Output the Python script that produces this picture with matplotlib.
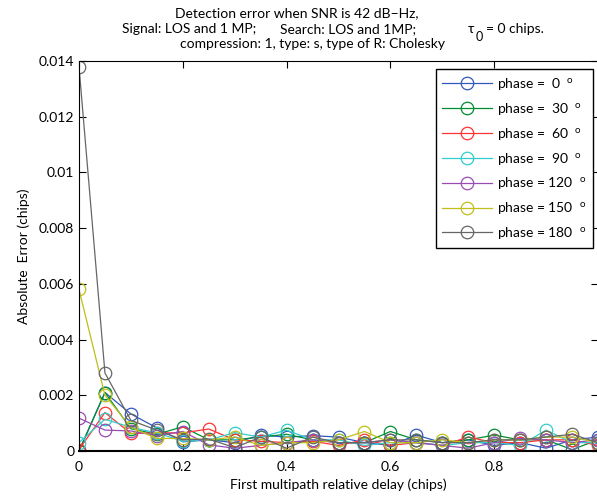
import numpy as np
import matplotlib
matplotlib.use('Agg')
import matplotlib.pyplot as plt
from matplotlib.ticker import FuncFormatter

plt.rcParams['font.family'] = ['Lato', 'DejaVu Sans']
plt.rcParams['font.size'] = 10
plt.rcParams['mathtext.fontset'] = 'custom'
plt.rcParams['mathtext.rm'] = 'Lato'
plt.rcParams['mathtext.it'] = 'Lato'

# retardo relativo del primer multitrayecto (chips)
delay = np.arange(0, 1.0001, 0.05)

# error absoluto para cada fase del multitrayecto
err_0 = [0, 0.0021, 0.00133, 0.00083, 0.00033, 0.0004, 0.0003, 0.00057, 0.0005, 0.00055, 0.0005,
         0.0003, 0.0002, 0.00057, 0.0003, 0.0004, 0.0002, 0.0003, 0.0001, 0.0004, 0.0005]
err_30 = [0, 0.0021, 0.0008, 0.0006, 0.00087, 0.0004, 0.0004, 0.0005, 0.0006, 0.0004, 0.0003,
          0.0003, 0.0007, 0.0004, 0.0003, 0.0004, 0.00057, 0.0004, 0.0004, 0.00005, 0.0004]
err_60 = [0.00005, 0.00138, 0.00063, 0.00065, 0.00065, 0.00079, 0.0004, 0.00035, 0.0003, 0.00035, 0.0002,
          0.0004, 0.0002, 0.0003, 0.0002, 0.0005, 0.0003, 0.0003, 0.0004, 0.0004, 0.0002]
err_90 = [0.0003, 0.00114, 0.00085, 0.00065, 0.00035, 0.0004, 0.00066, 0.0005, 0.00075, 0.0004, 0.0004,
          0.0002, 0.0003, 0.0003, 0.0002, 0.0003, 0.0003, 0.0002, 0.00075, 0.0003, 0.0003]
err_120 = [0.00118, 0.00075, 0.00072, 0.00055, 0.0007, 0.00022, 0.0001, 0.0002, 0.0003, 0.0004, 0.0003,
           0.0003, 0.0004, 0.0003, 0.0002, 0.0001, 0.0003, 0.00045, 0.0004, 0.0003, 0.0004]
err_150 = [0.0058, 0.0020, 0.00085, 0.00045, 0.00045, 0.0004, 0.0005, 0.0002, 0.0003, 0.0003, 0.0004,
           0.0007, 0.0003, 0.0003, 0.0004, 0.0003, 0.0004, 0.0004, 0.0005, 0.0005, 0.0003]
err_180 = [0.0138, 0.0028, 0.0011, 0.00075, 0.0004, 0.00043, 0.00012, 0.0005, 0.0001, 0.0005, 0.0003,
           0.0003, 0.0004, 0.0004, 0.0003, 0.0003, 0.0004, 0.0004, 0.0005, 0.0006, 0.0003]

series = [err_0, err_30, err_60, err_90, err_120, err_150, err_180]
labels = ['phase =  0  $^{o}$', 'phase =  30  $^{o}$', 'phase =  60  $^{o}$', 'phase =  90  $^{o}$',
          'phase = 120  $^{o}$', 'phase = 150  $^{o}$', 'phase = 180  $^{o}$']
colores = [(0.2, 0.35, 0.75), (0.0, 0.55, 0.2), (1.0, 0.2, 0.2), (0.2, 0.8, 0.8),
           (0.6, 0.3, 0.7), (0.75, 0.75, 0.1), (0.4, 0.4, 0.4)]

W, H = 597, 498
fig = plt.figure(figsize=(W / 100, H / 100), dpi=100)
ax = fig.add_axes([79 / W, 1 - 451 / H, (598 - 79) / W, (451 - 61) / H])

for y, lab, c in zip(series, labels, colores):
    ax.plot(delay, y, '-o', color=c, lw=0.9, ms=9, mfc='none', mec=c, mew=0.9, label=lab)

ax.set_xlim(0, 1)
ax.set_ylim(0, 0.014)
ax.set_xticks([0, 0.2, 0.4, 0.6, 0.8])
ax.set_yticks(np.arange(0, 0.0141, 0.002))
fmt = FuncFormatter(lambda v, p: '%g' % round(v, 4))
ax.xaxis.set_major_formatter(fmt)
ax.yaxis.set_major_formatter(fmt)
ax.tick_params(direction='in', top=True, right=True, length=5, width=0.8, labelsize=10)
ax.tick_params(axis='x', pad=7)
for s in ax.spines.values():
    s.set_linewidth(0.8)
ax.spines['bottom'].set_linewidth(1.5)

ax.set_xlabel('First multipath relative delay (chips)', labelpad=4)
ax.set_ylabel('Absolute  Error (chips)', labelpad=6)

leg = ax.legend(loc='upper right', bbox_to_anchor=(593 / W, 1 - 69 / H), bbox_transform=fig.transFigure,
                borderaxespad=0, fancybox=False, framealpha=1, edgecolor='black',
                handlelength=3.6, labelspacing=0.64, borderpad=0.5, handletextpad=0.3)
leg.get_frame().set_linewidth(1.0)

# titulo en tres lineas
def txt(x, y, s, **kw):
    fig.text(x / W, 1 - y / H, s, va='baseline', ha='left', **kw)

txt(175, 17, 'Detection error when SNR is 42 dB\u2212Hz,')
txt(122, 33, 'Signal: LOS and 1 MP;')
txt(280, 33, 'Search: LOS and 1MP;')
txt(468, 33, '\u03c4')
txt(476, 41, '0', fontsize=9)
txt(486, 33, '= 0 chips.')
txt(180, 48, 'compression: 1, type: s, type of R: Cholesky')

plt.savefig('out.png', dpi=100)
